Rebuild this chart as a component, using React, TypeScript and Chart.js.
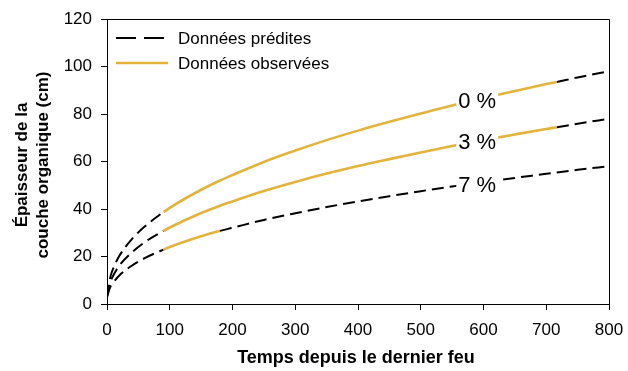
import { useEffect, useRef } from 'react';
import { Chart, registerables } from 'chart.js';

Chart.register(...registerables);

// Time since last fire (years)
const years = [0, 5, 10, 20, 40, 60, 90, 100, 150, 180, 200, 250, 300, 350, 400, 450, 500, 550, 600, 650, 700, 717, 750, 800];
// Organic layer thickness (cm) for each scenario
const thick0 = [3, 11, 15, 20.4, 27.4, 32.6, 38.7, 40.5, 48.1, 52, 54.3, 59.8, 64.6, 69, 73, 76.7, 80.2, 83.6, 86.7, 89.7, 92.6, 93.5, 95.4, 98];
const thick3 = [3, 9, 12, 16.3, 21.8, 26, 30.8, 32.2, 38.3, 41.4, 43.2, 47.6, 51.4, 54.9, 58.1, 61, 63.8, 66.5, 69, 71.4, 73.7, 74.4, 75.9, 78];
const thick7 = [3, 7, 9, 12.1, 16.2, 19.3, 22.9, 24, 28.5, 30.8, 32.1, 35.4, 38.2, 40.8, 43.2, 45.4, 47.5, 49.5, 51.3, 53.1, 54.8, 55.4, 56.5, 58];
// Observed data ranges (years)
const obsStart = [90, 90, 90];
const obsEnd = [717, 717, 180];
// Curve labels
const curveLabels = ['0 %', '3 %', '7 %'];
const labelYears = [590, 590, 590];
const labelValues = [85.6, 68.2, 50.1];

const legendLabels = ['Données prédites', 'Données observées'];
const xTitle = 'Temps depuis le dernier feu';
const yTitle = ['Épaisseur de la', 'couche organique (cm)'];

const GOLD = '#E4B43A';
const FONT = '"Liberation Sans", Arial, sans-serif';

export default function App() {
  const ref = useRef<HTMLCanvasElement>(null);

  useEffect(() => {
    document.body.style.margin = '0';
    const series = [thick0, thick3, thick7];
    const datasets: any[] = series.map((vals, i) => {
      const isObs = (ctx: any) =>
        ctx.p0.parsed.x >= obsStart[i] && ctx.p1.parsed.x <= obsEnd[i];
      return {
        label: 'curve' + i,
        data: years.map((x, j) => ({ x, y: vals[j] })),
        borderColor: '#000',
        borderWidth: 2,
        pointRadius: 0,
        cubicInterpolationMode: 'monotone',
        fill: false,
        segment: {
          borderColor: (ctx: any) => (isObs(ctx) ? GOLD : '#000'),
          borderDash: (ctx: any) => (isObs(ctx) ? [] : [12, 6]),
          borderWidth: (ctx: any) => (isObs(ctx) ? 2.6 : 2),
        },
      };
    });

    const overlay = {
      id: 'overlay',
      afterDraw(chart: any) {
        const ctx = chart.ctx as CanvasRenderingContext2D;
        const a = chart.chartArea;
        const xs = chart.scales.x;
        const ys = chart.scales.y;
        ctx.save();
        // frame top/right
        ctx.strokeStyle = '#000';
        ctx.lineWidth = 1;
        ctx.setLineDash([]);
        ctx.beginPath();
        ctx.moveTo(a.left, a.top + 0.5);
        ctx.lineTo(a.right + 0.5, a.top + 0.5);
        ctx.lineTo(a.right + 0.5, a.bottom);
        ctx.stroke();

        // curve labels
        ctx.font = '22px ' + FONT;
        ctx.textBaseline = 'middle';
        ctx.textAlign = 'center';
        curveLabels.forEach((t, i) => {
          const px = xs.getPixelForValue(labelYears[i]);
          const py = ys.getPixelForValue(labelValues[i]);
          const w = ctx.measureText(t).width;
          ctx.fillStyle = '#fff';
          ctx.fillRect(px - w / 2 - 2, py - 11, w + 4, 22);
          ctx.fillStyle = '#000';
          ctx.fillText(t, px, py + 1);
        });

        // legend
        const lx0 = a.left + 9;
        const lx1 = a.left + 58;
        const ly = [a.top + 19, a.top + 44];
        ctx.lineWidth = 2;
        ctx.strokeStyle = '#000';
        ctx.setLineDash([20, 8]);
        ctx.beginPath();
        ctx.moveTo(lx0, ly[0]);
        ctx.lineTo(lx1, ly[0]);
        ctx.stroke();
        ctx.setLineDash([]);
        ctx.strokeStyle = GOLD;
        ctx.lineWidth = 2.6;
        ctx.beginPath();
        ctx.moveTo(lx0, ly[1]);
        ctx.lineTo(lx1 + 3, ly[1]);
        ctx.stroke();
        ctx.font = '17px ' + FONT;
        ctx.fillStyle = '#000';
        ctx.textAlign = 'left';
        legendLabels.forEach((t, i) => ctx.fillText(t, a.left + 71, ly[i] + 1));

        // axis titles
        ctx.font = 'bold 18px ' + FONT;
        ctx.textAlign = 'center';
        ctx.fillText(xTitle, 356, 358);
        ctx.font = 'bold 17px ' + FONT;
        const cy = 165;
        [22, 43].forEach((x, i) => {
          ctx.save();
          ctx.translate(x, cy);
          ctx.rotate(-Math.PI / 2);
          ctx.fillText(yTitle[i], 0, 0);
          ctx.restore();
        });
        ctx.restore();
      },
    };

    const chart = new Chart(ref.current!, {
      type: 'line',
      data: { datasets },
      options: {
        animation: false,
        responsive: true,
        maintainAspectRatio: false,
        layout: { padding: { top: 19, right: 19, left: 0, bottom: 0 } },
        plugins: { legend: { display: false }, tooltip: { enabled: false } },
        scales: {
          x: {
            type: 'linear',
            min: 0,
            max: 800,
            ticks: { stepSize: 100, color: '#000', font: { family: FONT, size: 17 }, padding: 10, maxRotation: 0 },
            grid: { drawOnChartArea: false, drawTicks: true, tickLength: 6, color: '#000' },
            border: { display: true, color: '#000', width: 1 },
            afterFit: (s: any) => {
              s.height = 67;
              s.paddingLeft = 0;
              s.paddingRight = 0;
            },
          },
          y: {
            type: 'linear',
            min: 0,
            max: 120,
            ticks: { stepSize: 20, color: '#000', font: { family: FONT, size: 17 }, padding: 9 },
            grid: { drawOnChartArea: false, drawTicks: true, tickLength: 6, color: '#000' },
            border: { display: true, color: '#000', width: 1 },
            afterFit: (s: any) => {
              s.width = 107;
              s.paddingTop = 0;
              s.paddingBottom = 0;
            },
          },
        },
      },
      plugins: [overlay],
    });
    return () => chart.destroy();
  }, []);

  return (
    <div style={{ position: 'fixed', left: 0, top: 0, width: 628, height: 371 }}>
      <canvas ref={ref} />
    </div>
  );
}
